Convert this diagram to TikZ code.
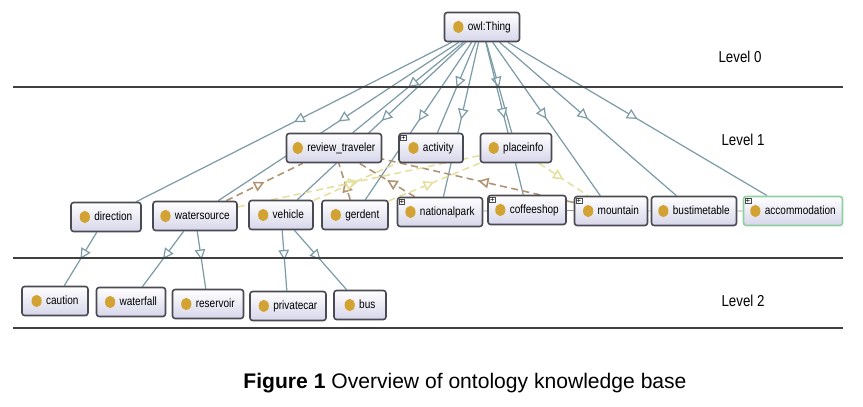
\documentclass[tikz,border=0pt]{standalone}
\usepackage{fontspec}
\setmainfont{Liberation Sans}
\newfontfamily\ogfont[FakeStretch=0.84]{Liberation Sans}
\usetikzlibrary{arrows.meta,backgrounds,decorations.markings}
\definecolor{edgeblue}{HTML}{7D9CA8}
\definecolor{boxline}{HTML}{4A4A52}
\definecolor{boxfill}{HTML}{D6D6EA}
\definecolor{dotgold}{HTML}{D2A232}
\definecolor{propbrown}{HTML}{B09474}
\definecolor{propyellow}{HTML}{E6E0A0}
\definecolor{accgreen}{HTML}{92CFA0}
\newcommand\ogdot{\tikz[baseline=-0.6ex]\fill[dotgold] (0,0) ellipse (2.9pt and 3.5pt);\hspace{2.5pt}}

\begin{document}
\begin{tikzpicture}[x=0.2mm,y=-0.2mm,font=\ogfont\fontsize{6.8}{7}\selectfont,
  cls/.style={draw=boxline,line width=0.9pt,rounded corners=1.5pt,top color=white,
    bottom color=boxfill,minimum height=29*0.2mm,minimum width=#1*0.2mm,inner sep=1pt},
  plus/.style={label={[anchor=north west,draw=boxline,fill=white,inner sep=0.3pt,
    font=\fontsize{4.5}{4.5}\selectfont,line width=0.3pt,xshift=1.2pt,yshift=-1.2pt]north west:+}},
  mid/.style={decoration={markings,mark=at position 0.5 with
    {\arrow{Triangle[open,length=6pt,width=6pt,fill=white]}}},postaction={decorate}},
  isa/.style={draw=edgeblue,line width=0.7pt,mid},
  objprop/.style={draw=#1,line width=0.9pt,dash pattern=on 4pt off 2.5pt,mid},
  rule/.style={draw=black!75,line width=1.2pt},
  lvl/.style={font=\ogfont\fontsize{9}{10}\selectfont}]
  \useasboundingbox (0,0) rectangle (863,406);
  \draw[rule] (13,87) coordinate (r0a) -- (843,87) coordinate (r0b);
  \draw[rule] (13,258) coordinate (r1a) -- (843,258) coordinate (r1b);
  \draw[rule] (13,328) coordinate (r2a) -- (843,328) coordinate (r2b);
  \node[lvl] (lv0) at (740,57) {Level 0};
  \node[lvl] (lv1) at (743,140) {Level 1};
  \node[lvl] (lv2) at (743,301) {Level 2};

  \node[cls=75] (thing) at (482,27) {\ogdot owl:Thing};
  \node[cls=95] (review) at (334,148) {\ogdot review\_traveler};
  \node[cls=64,plus] (activity) at (431,148) {\ogdot activity};
  \node[cls=71] (placeinfo) at (516,148) {\ogdot placeinfo};
  \node[cls=70] (direction) at (106,217) {\ogdot direction};
  \node[cls=84] (water) at (195,216) {\ogdot watersource};
  \node[cls=64] (vehicle) at (281,215) {\ogdot vehicle};
  \node[cls=66] (gerdent) at (355,215) {\ogdot gerdent};
  \node[cls=85,plus] (park) at (440,212) {\ogdot nationalpark};
  \node[cls=78,plus] (coffee) at (527,210) {\ogdot coffeeshop};
  \node[cls=73,plus] (mountain) at (611,211) {\ogdot mountain};
  \node[cls=85] (bustime) at (694,211) {\ogdot bustimetable};
  \node[cls=99,plus,draw=accgreen] (accom) at (793,211) {\ogdot accommodation};
  \node[cls=66] (caution) at (55,301) {\ogdot caution};
  \node[cls=69] (waterfall) at (131,302) {\ogdot waterfall};
  \node[cls=71] (reservoir) at (208,304) {\ogdot reservoir};
  \node[cls=76] (privatecar) at (288,306) {\ogdot privatecar};
  \node[cls=52] (bus) at (360,305) {\ogdot bus};

  \node[font=\fontsize{12}{14}\selectfont] (caption) at (465,383)
    {\textbf{Figure 1} Overview of ontology knowledge base};

  \begin{scope}[on background layer]
    \foreach \c in {direction,water,review,vehicle,gerdent,activity,park,placeinfo,coffee,mountain,bustime,accom}
      \path[isa] (thing) -- (\c);
    \path[isa] (direction) -- (caution);
    \path[isa] (water) -- (waterfall);
    \path[isa] (water) -- (reservoir);
    \path[isa] (vehicle) -- (privatecar);
    \path[isa] (vehicle) -- (bus);
    \draw[boxline!60,line width=0.5pt] (park) -- (coffee) -- (mountain) -- (bustime) -- (accom);
    \foreach \c in {water,gerdent,park,mountain}
      \path[objprop=propbrown] (\c) -- (review);
    \path[objprop=propyellow] (water) -- (placeinfo);
    \path[objprop=propyellow] (gerdent) -- (placeinfo);
    \path[objprop=propyellow] (vehicle) -- (activity);
    \path[objprop=propyellow] (placeinfo) -- (mountain);
  \end{scope}
\end{tikzpicture}
\end{document}
